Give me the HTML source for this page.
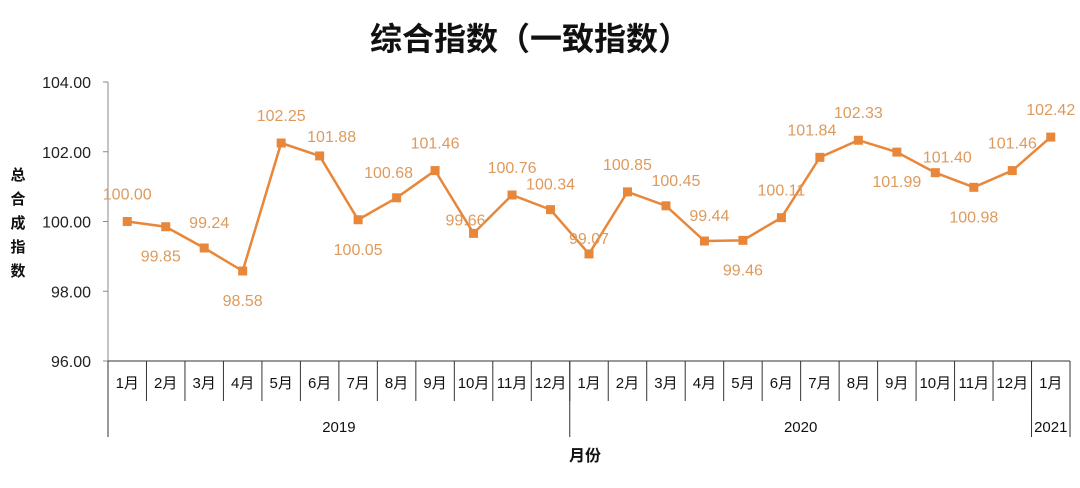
<!DOCTYPE html>
<html><head><meta charset="utf-8"><style>
html,body{margin:0;padding:0;background:#fff;}
svg{display:block;font-family:"Liberation Sans","Noto Sans CJK SC",sans-serif;}
</style></head><body>
<svg id="chart" width="1080" height="488" viewBox="0 0 1080 488" xmlns="http://www.w3.org/2000/svg">
<text x="530" y="50" text-anchor="middle" font-size="32" font-weight="bold" fill="#111" font-family="'Noto Sans CJK SC',sans-serif">综合指数（一致指数）</text>
<g font-size="15" font-weight="bold" fill="#111" font-family="'Noto Sans CJK SC',sans-serif" text-anchor="middle">
<text x="18" y="180">总</text><text x="18" y="204">合</text><text x="18" y="228">成</text><text x="18" y="252">指</text><text x="18" y="276">数</text>
</g>
<text x="585" y="461" text-anchor="middle" font-size="16" font-weight="bold" fill="#111" font-family="'Noto Sans CJK SC',sans-serif">月份</text>
<g id="axes"></g>
<g id="marks"></g>
</svg>
<script>
const categories=["1月","2月","3月","4月","5月","6月","7月","8月","9月","10月","11月","12月","1月","2月","3月","4月","5月","6月","7月","8月","9月","10月","11月","12月","1月"];
const years=["2019","2020","2021"];
const yearCounts=[12,12,1];
const values=[100.00,99.85,99.24,98.58,102.25,101.88,100.05,100.68,101.46,99.66,100.76,100.34,99.07,100.85,100.45,99.44,99.46,100.11,101.84,102.33,101.99,101.40,100.98,101.46,102.42];
const yTicks=[96,98,100,102,104];
// label placement (style, not data): dx, dy relative to point
const labelPos=[[0,-22],[-5,35],[5,-20],[0,35],[0,-22],[12,-14],[0,35],[-8,-20],[0,-22],[-8,-8],[0,-22],[0,-20],[0,-10],[0,-22],[10,-20],[5,-20],[0,35],[0,-22],[-8,-22],[0,-22],[0,35],[12,-10],[0,35],[0,-22],[0,-22]];
const NS="http://www.w3.org/2000/svg";
const x0=108,x1=1070,yTop=82,yBot=361,ymin=96,ymax=104;
const bw=(x1-x0)/categories.length;
const xs=i=>x0+bw*(i+0.5);
const ys=v=>yBot-(v-ymin)/(ymax-ymin)*(yBot-yTop);
function mk(tag,attrs,parent){const e=document.createElementNS(NS,tag);for(const k in attrs)e.setAttribute(k,attrs[k]);parent.appendChild(e);return e;}
const axes=document.getElementById('axes'),marks=document.getElementById('marks');
let el=mk('line',{x1:x0,y1:yTop,x2:x0,y2:yBot,stroke:'#888','stroke-width':1},axes);


yTicks.forEach(t=>{
 let tk=mk('line',{x1:x0-5,y1:ys(t),x2:x0,y2:ys(t),stroke:'#888'},axes);
 
 
 let tl=mk('text',{x:x0-17,y:ys(t)+6,'text-anchor':'end','font-size':16,fill:'#222'},axes);
 tl.textContent=t.toFixed(2);
 
 
});
el=mk('line',{x1:x0,y1:yBot,x2:x1,y2:yBot,stroke:'#333','stroke-width':1},axes);


categories.forEach((c,i)=>{
 let s=mk('line',{x1:x0+bw*i,y1:yBot,x2:x0+bw*i,y2:yBot+40,stroke:'#333'},axes);
 
 
 let t=mk('text',{x:xs(i),y:yBot+27,'text-anchor':'middle','font-size':15,fill:'#111','font-family':"'Liberation Sans','Noto Sans CJK SC',sans-serif"},axes);
 t.textContent=c;
 
 
});
let start=0;
years.forEach((y,k)=>{
 const end=start+yearCounts[k];
 let s=mk('line',{x1:x0+bw*start,y1:yBot,x2:x0+bw*start,y2:yBot+76,stroke:'#333'},axes);
 
 
 let t=mk('text',{x:x0+bw*(start+end)/2,y:yBot+71,'text-anchor':'middle','font-size':15,fill:'#111'},axes);
 t.textContent=y;
 
 
 start=end;
});
let s2=mk('line',{x1:x1,y1:yBot,x2:x1,y2:yBot+76,stroke:'#333'},axes);


const pts=values.map((v,i)=>xs(i)+','+ys(v)).join(' ');
let pl=mk('polyline',{points:pts,fill:'none',stroke:'#E8873A','stroke-width':2.5},marks);


values.forEach((v,i)=>{
 let r=mk('rect',{x:xs(i)-4.5,y:ys(v)-4.5,width:9,height:9,fill:'#E8873A'},marks);
 
 
 const p=labelPos[i]||[0,-20];
 let t=mk('text',{x:xs(i)+p[0],y:ys(v)+p[1],'text-anchor':'middle','font-size':16,fill:'#DE9A5C'},marks);
 t.textContent=v.toFixed(2);
 
 
});
</script>
</body></html>
